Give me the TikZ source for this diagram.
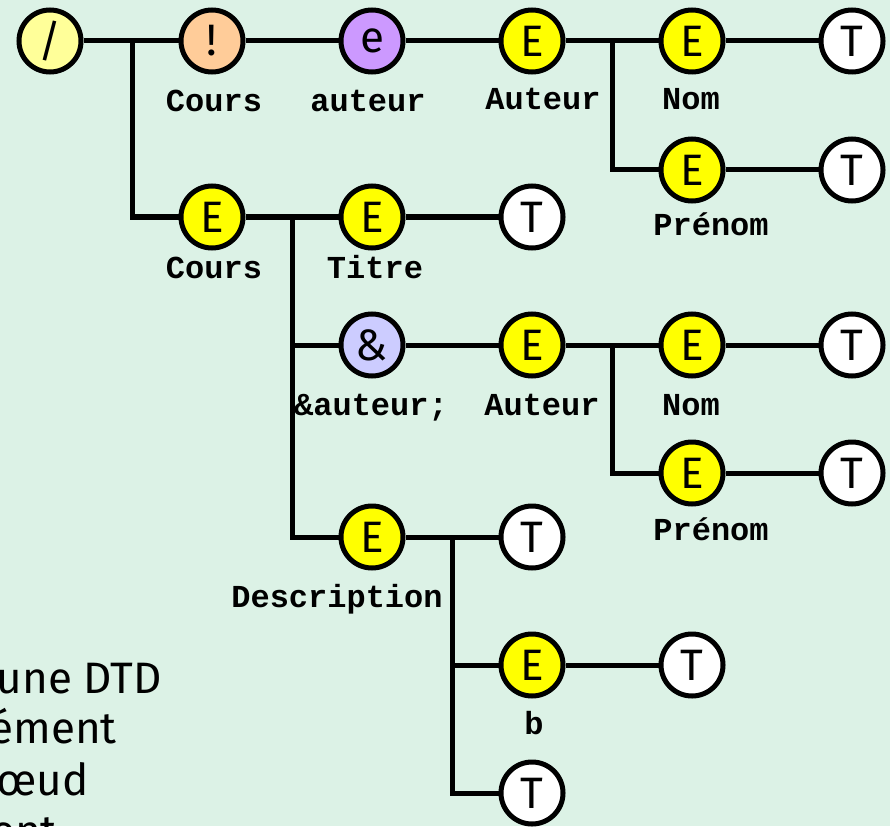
\documentclass[tikz,border=0pt]{standalone}
\usepackage{fontspec}
\newfontfamily\comicfont{Fira Sans}
\newfontfamily\labfont{Liberation Mono}
\definecolor{bgmint}{RGB}{220,242,230}
\definecolor{paleyel}{RGB}{255,255,153}
\definecolor{peach}{RGB}{255,204,153}
\definecolor{lilac}{RGB}{204,153,255}
\definecolor{lavender}{RGB}{204,204,255}
\definecolor{yel}{RGB}{255,255,0}
\tikzset{
  nd/.style={circle,draw=black,line width=5pt,minimum size=62pt,inner sep=0pt,
    font=\comicfont\fontsize{44}{52}\selectfont},
  ee/.style={nd,fill=yel},
  tt/.style={nd,fill=white},
  lab/.style={anchor=base,inner sep=0pt,font=\labfont\bfseries\fontsize{32}{38}\selectfont},
  side/.style={anchor=base east,inner sep=0pt,font=\comicfont\fontsize{44}{52}\selectfont},
  conn/.style={line width=5pt,line join=miter}
}
\begin{document}
\begin{tikzpicture}[x=1pt,y=-1pt]
\useasboundingbox (0,0) rectangle (890,826);
\fill[bgmint] (0,0) rectangle (890,826);
\clip (0,0) rectangle (890,826);
% nodes
\node[nd,fill=paleyel] (root) at (50,41) {/};
\node[nd,fill=peach] (excl) at (212,41) {!};
\node[nd,fill=lilac] (ent) at (372,41) {e};
\node[ee] (aut1) at (532,41) {E};
\node[ee] (nom1) at (692,41) {E};
\node[tt] (tnom1) at (852,41) {T};
\node[ee] (pre1) at (692,170) {E};
\node[tt] (tpre1) at (852,170) {T};
\node[ee] (cours) at (212,217) {E};
\node[ee] (titre) at (372,217) {E};
\node[tt] (ttitre) at (532,217) {T};
\node[nd,fill=lavender] (amp) at (372,345) {\&};
\node[ee] (aut2) at (532,345) {E};
\node[ee] (nom2) at (692,345) {E};
\node[tt] (tnom2) at (852,345) {T};
\node[ee] (pre2) at (692,473) {E};
\node[tt] (tpre2) at (852,473) {T};
\node[ee] (desc) at (372,537) {E};
\node[tt] (tdesc) at (532,537) {T};
\node[ee] (eb) at (532,665) {E};
\node[tt] (tb) at (692,665) {T};
\node[tt] (tlast) at (532,793) {T};
% branch points
\coordinate (b0) at (132,41);
\coordinate (b1) at (612,41);
\coordinate (b2) at (292,217);
\coordinate (b3) at (612,345);
\coordinate (b4) at (452,537);
% connectors
\draw[conn] (root) -- (excl);
\draw[conn] (b0) |- (cours);
\draw[conn] (excl) -- (ent);
\draw[conn] (ent) -- (aut1);
\draw[conn] (aut1) -- (nom1);
\draw[conn] (nom1) -- (tnom1);
\draw[conn] (b1) |- (pre1);
\draw[conn] (pre1) -- (tpre1);
\draw[conn] (cours) -- (titre);
\draw[conn] (titre) -- (ttitre);
\draw[conn] (b2) |- (amp);
\draw[conn] (b2) |- (desc);
\draw[conn] (amp) -- (aut2);
\draw[conn] (aut2) -- (nom2);
\draw[conn] (nom2) -- (tnom2);
\draw[conn] (b3) |- (pre2);
\draw[conn] (pre2) -- (tpre2);
\draw[conn] (desc) -- (tdesc);
\draw[conn] (b4) |- (eb);
\draw[conn] (b4) |- (tlast);
\draw[conn] (eb) -- (tb);
% labels
\node[lab] (l1) at (214,112) {Cours};
\node[lab] (l2) at (368,112) {auteur};
\node[lab] (l3) at (543,110) {Auteur};
\node[lab] (l4) at (691,110) {Nom};
\node[lab] (l5) at (711,235) {Prénom};
\node[lab] (l6) at (214,278) {Cours};
\node[lab] (l7) at (375,278) {Titre};
\node[lab] (l8) at (371,415) {\&auteur;};
\node[lab] (l9) at (542,415) {Auteur};
\node[lab] (l10) at (691,415) {Nom};
\node[lab] (l11) at (711,540) {Prénom};
\node[lab] (l12) at (337,607) {Description};
\node[lab] (l13) at (534,734) {b};
% side text
\node[side] (s1) at (162,693) {une DTD};
\node[side] (s2) at (117,743) {ément};
\node[side] (s3) at (89,795) {nœud};
\node[side] (s4) at (57,846) {ent};
\end{tikzpicture}
\end{document}
